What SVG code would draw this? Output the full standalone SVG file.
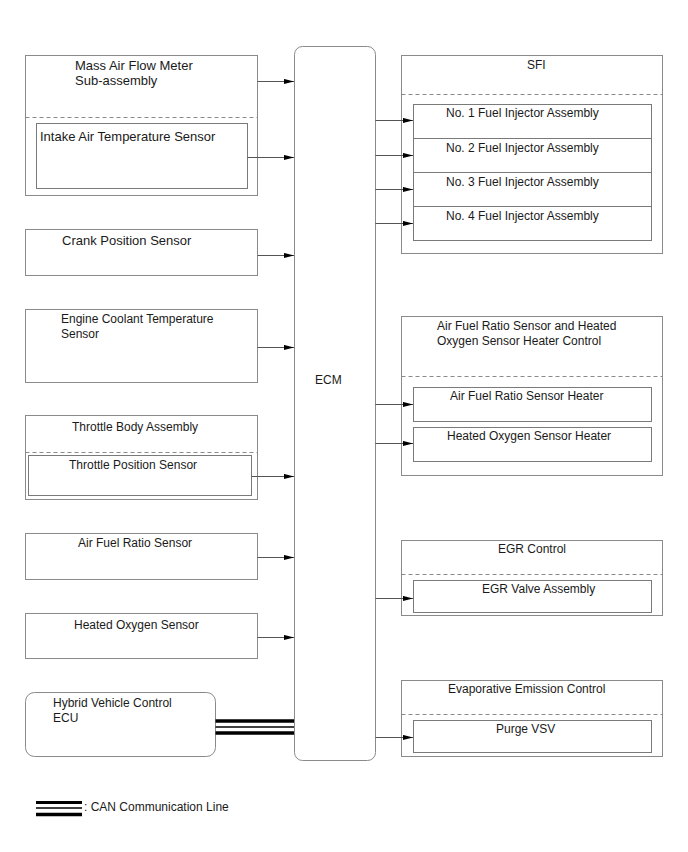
<svg xmlns="http://www.w3.org/2000/svg" width="688" height="852" viewBox="0 0 688 852">
<style>
text{font-family:"Liberation Sans",Arial,sans-serif;font-size:12px;fill:#1a1a1a}
.t13{font-size:13px}
.box{fill:#fff;stroke:#8a8a8a;stroke-width:1}
.inner{fill:#fff;stroke:#7a7a7a;stroke-width:1}
.dash{fill:none;stroke:#8a8a8a;stroke-width:1;stroke-dasharray:4,3}
.conn{fill:none;stroke:#555;stroke-width:1;marker-end:url(#arr)}
.can{fill:none;stroke:#000}
</style>
<defs>
<marker id="arr" markerUnits="userSpaceOnUse" markerWidth="11" markerHeight="7" refX="10" refY="3" orient="auto">
<path d="M0,0.4 L10,3 L0,5.6 z" fill="#000"/>
</marker>
</defs>
<rect width="688" height="852" fill="#fff"/>

<g id="maf">
<rect class="box" x="25.5" y="55.5" width="232" height="140"/>
<line class="dash" x1="25.5" y1="117.5" x2="257.5" y2="117.5"/>
<text class="t13" x="75" y="70">Mass Air Flow Meter</text>
<text class="t13" x="75" y="85">Sub-assembly</text>
</g>
<g id="iat">
<rect class="inner" x="36.5" y="123.5" width="211" height="65"/>
<text class="t13" x="40" y="141">Intake Air Temperature Sensor</text>
</g>
<g id="crank">
<rect class="box" x="25.5" y="229.5" width="232" height="46"/>
<text class="t13" x="62" y="245">Crank Position Sensor</text>
</g>
<g id="ect">
<rect class="box" x="25.5" y="309.5" width="232" height="73"/>
<text x="61" y="323">Engine Coolant Temperature</text>
<text x="61" y="338">Sensor</text>
</g>
<g id="throttle">
<rect class="box" x="25.5" y="415.5" width="232" height="84"/>
<line class="dash" x1="25.5" y1="452.5" x2="257.5" y2="452.5"/>
<text x="72" y="431">Throttle Body Assembly</text>
</g>
<g id="tps">
<rect class="inner" x="28.5" y="455.5" width="223" height="40"/>
<text x="69" y="469">Throttle Position Sensor</text>
</g>
<g id="afs">
<rect class="box" x="25.5" y="533.5" width="232" height="46"/>
<text x="78" y="547">Air Fuel Ratio Sensor</text>
</g>
<g id="hos">
<rect class="box" x="25.5" y="613.5" width="232" height="45"/>
<text x="74" y="629">Heated Oxygen Sensor</text>
</g>
<g id="hv">
<rect class="box" x="25.5" y="692.5" width="190" height="64" rx="9" ry="9"/>
<text x="53" y="707">Hybrid Vehicle Control</text>
<text x="53" y="722">ECU</text>
</g>

<g id="ecm">
<rect class="box" x="294.5" y="46.5" width="81" height="714" rx="8" ry="8" stroke="#999" stroke-width="1.3"/>
<text x="315" y="384">ECM</text>
</g>

<g id="sfi">
<rect class="box" x="401.5" y="55.5" width="261" height="198"/>
<line class="dash" x1="401.5" y1="94.5" x2="662.5" y2="94.5"/>
<text x="527" y="69">SFI</text>
</g>
<g id="inj1">
<rect class="inner" x="413.5" y="104.5" width="238" height="34"/>
<text x="446" y="117">No. 1 Fuel Injector Assembly</text>
</g>
<g id="inj2">
<rect class="inner" x="413.5" y="138.5" width="238" height="34"/>
<text x="446" y="152">No. 2 Fuel Injector Assembly</text>
</g>
<g id="inj3">
<rect class="inner" x="413.5" y="172.5" width="238" height="34"/>
<text x="446" y="186">No. 3 Fuel Injector Assembly</text>
</g>
<g id="inj4">
<rect class="inner" x="413.5" y="206.5" width="238" height="34"/>
<text x="446" y="220">No. 4 Fuel Injector Assembly</text>
</g>

<g id="heater">
<rect class="box" x="401.5" y="316.5" width="261" height="159"/>
<line class="dash" x1="401.5" y1="376.5" x2="662.5" y2="376.5"/>
<text x="437" y="330">Air Fuel Ratio Sensor and Heated</text>
<text x="437" y="345">Oxygen Sensor Heater Control</text>
</g>
<g id="afh">
<rect class="inner" x="413.5" y="387.5" width="238" height="34"/>
<text x="450" y="400">Air Fuel Ratio Sensor Heater</text>
</g>
<g id="hoh">
<rect class="inner" x="413.5" y="427.5" width="238" height="34"/>
<text x="447" y="440">Heated Oxygen Sensor Heater</text>
</g>

<g id="egr">
<rect class="box" x="401.5" y="540.5" width="261" height="75"/>
<line class="dash" x1="401.5" y1="574.5" x2="662.5" y2="574.5"/>
<text x="498" y="553">EGR Control</text>
</g>
<g id="egrv">
<rect class="inner" x="413.5" y="580.5" width="238" height="32"/>
<text x="482" y="593">EGR Valve Assembly</text>
</g>

<g id="evap">
<rect class="box" x="401.5" y="680.5" width="261" height="76"/>
<line class="dash" x1="401.5" y1="714.5" x2="662.5" y2="714.5"/>
<text x="448" y="693">Evaporative Emission Control</text>
</g>
<g id="vsv">
<rect class="inner" x="413.5" y="720.5" width="238" height="32"/>
<text x="496" y="733">Purge VSV</text>
</g>

<g id="connectors">
<line class="conn" x1="257.5" y1="81.5" x2="294" y2="81.5"/>
<line class="conn" x1="247.5" y1="157.5" x2="294" y2="157.5"/>
<line class="conn" x1="257.5" y1="255.5" x2="294" y2="255.5"/>
<line class="conn" x1="257.5" y1="347.5" x2="294" y2="347.5"/>
<line class="conn" x1="251.5" y1="476.5" x2="294" y2="476.5"/>
<line class="conn" x1="257.5" y1="557.5" x2="294" y2="557.5"/>
<line class="conn" x1="257.5" y1="637.5" x2="294" y2="637.5"/>
<line class="conn" x1="375.5" y1="120.5" x2="413" y2="120.5"/>
<line class="conn" x1="375.5" y1="155.5" x2="413" y2="155.5"/>
<line class="conn" x1="375.5" y1="189.5" x2="413" y2="189.5"/>
<line class="conn" x1="375.5" y1="223.5" x2="413" y2="223.5"/>
<line class="conn" x1="375.5" y1="404.5" x2="413" y2="404.5"/>
<line class="conn" x1="375.5" y1="443.5" x2="413" y2="443.5"/>
<line class="conn" x1="375.5" y1="598.5" x2="413" y2="598.5"/>
<line class="conn" x1="375.5" y1="737.5" x2="413" y2="737.5"/>
<g id="can">
<line class="can" x1="215.5" y1="721" x2="294" y2="721" stroke-width="3.5"/>
<line class="can" x1="215.5" y1="727" x2="294" y2="727" stroke-width="1.5"/>
<line class="can" x1="215.5" y1="733" x2="294" y2="733" stroke-width="3.5"/>
</g>
</g>

<g id="legend">
<line class="can" x1="36" y1="802.5" x2="82" y2="802.5" stroke-width="3"/>
<line class="can" x1="36" y1="808" x2="82" y2="808" stroke-width="1.5"/>
<line class="can" x1="36" y1="814.5" x2="82" y2="814.5" stroke-width="3.5"/>
<text x="84" y="811">: CAN Communication Line</text>
</g>
</svg>
